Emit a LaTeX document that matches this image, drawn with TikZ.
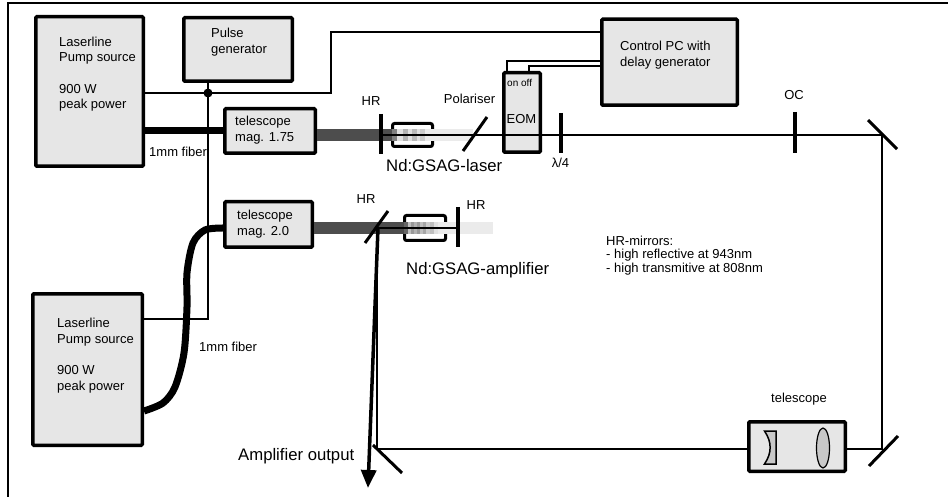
\documentclass[tikz,border=0pt]{standalone}
\usepackage{fontspec}
\setmainfont{Liberation Sans}
\usepackage{tikz}
\usetikzlibrary{arrows.meta, shapes.geometric}
\definecolor{boxgrey}{RGB}{230,230,230}
\definecolor{lensgrey}{RGB}{200,200,200}
\definecolor{pumpbeam}{RGB}{77,77,77}
\definecolor{fadebeam}{RGB}{235,235,235}
\tikzset{
  boxnode/.style={rectangle, draw=black, fill=boxgrey, line width=3.5pt, rounded corners=1pt,
    inner sep=0pt, anchor=north west},
  lbl/.style={font=\fontsize{13}{15.5}\selectfont, inner sep=0pt, align=left},
  biglbl/.style={font=\fontsize{16.7}{18}\selectfont, inner sep=0pt},
  notelbl/.style={font=\fontsize{13}{13.3}\selectfont, inner sep=0pt, align=left},
  wire/.style={line width=1.3pt, color=black},
  fiber/.style={line width=7pt, color=black},
  mirror/.style={line width=3.5pt, color=black},
  crystal/.style={rectangle, draw=black, fill=white, line width=3pt, rounded corners=2pt,
    inner sep=0pt, anchor=north west}
}
\begin{document}
\begin{tikzpicture}[x=1pt,y=-1pt]
  \useasboundingbox (0,0) rectangle (948,497);
  % frame
  \draw[line width=1.5pt] (8,497) -- (8,3) -- (948,3);

  % boxes
  \node[boxnode, minimum width=107.5pt, minimum height=149.5pt] (pumpa) at (34,15) {};
  \node[boxnode, minimum width=109.5pt, minimum height=151.5pt] (pumpb) at (31,292) {};
  \node[boxnode, minimum width=108.5pt, minimum height=63.5pt] (pulse) at (182,16) {};
  \node[boxnode, minimum width=90.5pt, minimum height=44.5pt] (telea) at (223,107) {};
  \node[boxnode, minimum width=87.5pt, minimum height=45.5pt] (teleb) at (223,200) {};
  \node[boxnode, minimum width=135.5pt, minimum height=86pt] (ctrl) at (600,17.5) {};
  \node[boxnode, minimum width=36.5pt, minimum height=79.5pt] (eom) at (502,71) {};
  \node[boxnode, minimum width=96.5pt, minimum height=49.5pt] (teleout) at (747,420) {};
  \node[crystal, minimum width=40pt, minimum height=23pt] (crysa) at (391,122) {};
  \node[crystal, minimum width=41pt, minimum height=25pt] (crysb) at (403,214) {};

  % box texts
  \node[lbl, anchor=north west] (pumpatxt) at (59,36.5) {Laserline\\Pump source\\[16pt]900 W\\peak power};
  \node[lbl, anchor=north west] (pumpbtxt) at (57,318) {Laserline\\Pump source\\[16pt]900 W\\peak power};
  \node[lbl, anchor=north west] (pulsetxt) at (211,28) {Pulse\\generator};
  \node[lbl, anchor=north west] (teleatxt) at (235,116) {telescope\\mag. 1.75};
  \node[lbl, anchor=north west] (telebtxt) at (237,210) {telescope\\mag. 2.0};
  \node[lbl, anchor=north west] (ctrltxt) at (620,41) {Control PC with\\delay generator};
  \node[font=\fontsize{10}{12}\selectfont, inner sep=0pt, anchor=west] (onoff) at (507,83) {on off};

  % pump beams and crystals
  \fill[pumpbeam] (telea.east |- 0,129) rectangle (392,141);
  \fill[pumpbeam] (teleb.east |- 0,222) rectangle (404,234);
  \fill[fadebeam] (425,129) rectangle (473,141);
  \fill[fadebeam] (438,222) rectangle (493,234);
  \foreach \xa/\xb/\shade in {392/397/50,397/403/12,403/408/30,408/412/12,412/417/27,417/420/12,420/425/20}{
    \fill[black!\shade!white] (\xa,129) rectangle (\xb,141);
  }
  \foreach \xa/\xb/\shade in {404/408/60,408/411/25,411/414/40,414/417/30,417/420/40,420/423/25,423/426/35,426/430/20,430/434/25,434/438/12}{
    \fill[black!\shade!white] (\xa,222) rectangle (\xb,234);
  }

  % optical axis points
  \coordinate (hra) at (381,135);
  \coordinate (oc) at (795,135);
  \coordinate (foldtr) at (882,135);
  \coordinate (foldbr) at (882,449);
  \coordinate (foldbl) at (377,449);
  \coordinate (hrb) at (377,228);
  \coordinate (hrc) at (458,228);
  \coordinate (outtip) at (368,488);

  % fibers
  \draw[fiber] (pumpa.east |- telea.west) -- (telea.west);
  \draw[fiber] plot[smooth] coordinates {(pumpb.east |- 0,411) (163,403) (175,387) (184,353) (187,307) (187,273) (193,243) (205,230) (teleb.west |- 0,228)};

  % electrical lines
  \coordinate (junc) at (208,93);
  \coordinate (turn) at (331,93);
  \draw[wire] (pumpa.east |- junc) -- (junc) -- (turn) -- (turn |- 0,32) -- (ctrl.west |- 0,32);
  \draw[wire] (pulse.south -| junc) -- (junc) -- (junc |- 0,319) -- (pumpb.east |- 0,319);
  \fill (junc) circle (4.5pt);
  \draw[wire] (507,0 |- eom.north) -- (507,61) -- (ctrl.west |- 0,61);
  \draw[wire] (529,0 |- eom.north) -- (529,66) -- (ctrl.west |- 0,66);

  % beam path
  \draw[wire] (hra) -- (oc) -- (foldtr) -- (foldbr) -- (teleout.east |- foldbr);
  \draw[wire] (teleout.west |- foldbr) -- (foldbl) -- (hrb) -- (hrc);
  \draw[-{Triangle[length=18pt,width=15pt]}, line width=3.5pt] (378,228) -- (outtip);

  % mirrors
  \draw[mirror] (381,114) -- (381,154);
  \draw[mirror] (458,207) -- (458,247);
  \draw[mirror] (795,112) -- (795,153);
  \draw[mirror] (561,113) -- (561,153);
  \draw[mirror, line width=3pt] (463,151) -- (487,117);
  \draw[mirror, line width=3pt] (365,243) -- (388,211);
  \draw[mirror, line width=3pt] (868,120) -- (897,149);
  \draw[mirror, line width=3pt] (869,466) -- (898,436);
  \draw[mirror, line width=3pt] (373,445) -- (402,473);

  % output telescope optics
  \draw[line width=1.5pt, fill=lensgrey] (764.5,431) -- (776,431) -- (776,464) -- (764.5,464) .. controls (772,453) and (772,442) .. cycle;
  \node[ellipse, draw=black, fill=lensgrey, line width=1.2pt, minimum width=13pt, minimum height=40pt, inner sep=0pt] (lens) at (823,448) {};

  % labels
  \node[lbl] (eomtxt) at (521.5,119) {EOM};
  \node[lbl] (hralbl) at (371,101) {HR};
  \node[lbl] (pollbl) at (469.5,99) {Polariser};
  \node[lbl] (oclbl) at (794,95) {OC};
  \node[lbl] (hrblbl) at (366,199) {HR};
  \node[lbl] (hrclbl) at (476,205) {HR};
  \node[lbl] (teleoutlbl) at (799,399) {telescope};
  \node[lbl, anchor=west] (fibalbl) at (149,152) {1mm fiber};
  \node[lbl, anchor=west] (fibblbl) at (199,347) {1mm fiber};
  \node[lbl] (wavelbl) at (560.5,163) {λ/4};
  \node[biglbl, anchor=west] (lasertxt) at (386,166) {Nd:GSAG-laser};
  \node[biglbl, anchor=west] (amptxt) at (406,270) {Nd:GSAG-amplifier};
  \node[biglbl, anchor=west] (outtxt) at (238,456) {Amplifier output};
  \node[notelbl, anchor=north west] (notetxt) at (606,236) {HR-mirrors:\\- high reflective at 943nm\\- high transmitive at 808nm};
\end{tikzpicture}
\end{document}
